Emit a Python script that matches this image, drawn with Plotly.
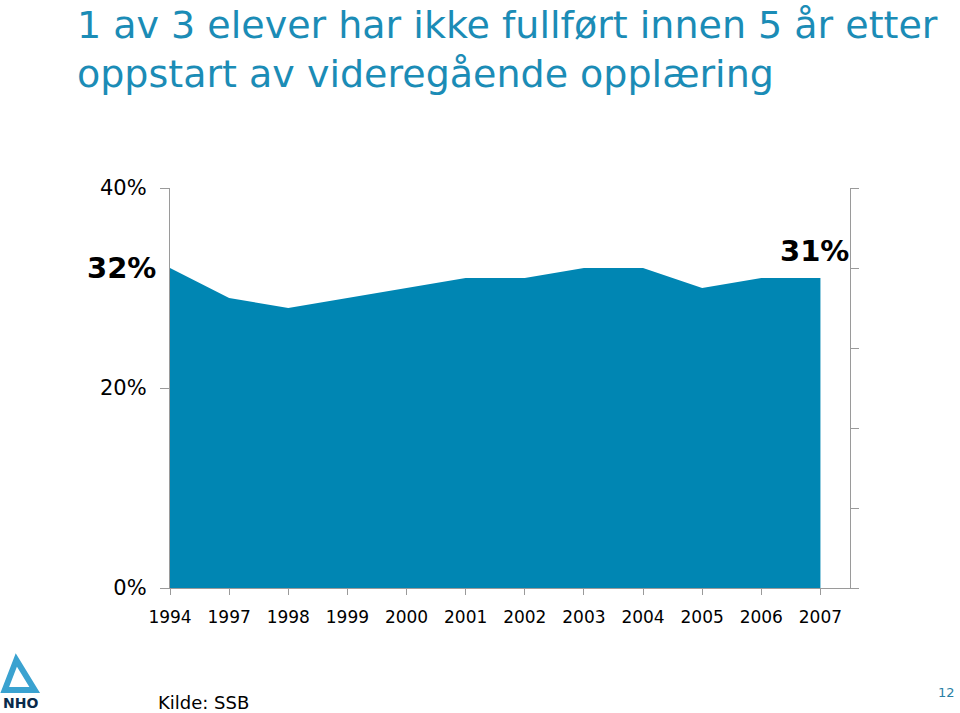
import plotly.graph_objects as go

years = ["1994", "1997", "1998", "1999", "2000", "2001", "2002", "2003", "2004", "2005", "2006", "2007"]
share = [32, 29, 28, 29, 30, 31, 31, 32, 32, 30, 31, 31]
y_ticks = [0, 20, 40]
y_ticktext = ["0%", "20%", "40%"]

idx = list(range(len(years)))
AXIS = "#9a9a9a"
FILL = "#0086b3"
TITLE = "#1b8cb6"

fig = go.Figure()
fig.add_trace(go.Scatter(x=idx, y=share, mode="lines", fill="tozeroy",
                         line=dict(width=0, color=FILL), fillcolor=FILL,
                         hoverinfo="skip", showlegend=False))
fig.add_trace(go.Scatter(x=[0], y=[0], yaxis="y2", mode="markers",
                         marker=dict(opacity=0), showlegend=False, hoverinfo="skip"))

fig.update_layout(
    width=960, height=713,
    margin=dict(l=170, r=110, t=188, b=125),
    paper_bgcolor="white", plot_bgcolor="white",
    font=dict(family="DejaVu Sans", color="black"),
    xaxis=dict(range=[0, 11.5], tickvals=idx, ticktext=years, showgrid=False,
               zeroline=False, showline=True, linecolor=AXIS, linewidth=1.3,
               ticks="outside", ticklen=6, tickcolor=AXIS, ticklabelstandoff=7,
               tickfont=dict(size=17, family="DejaVu Sans"), fixedrange=True),
    yaxis=dict(range=[0, 40], tickvals=y_ticks, ticktext=y_ticktext, showgrid=False,
               zeroline=False, showline=True, linecolor=AXIS, linewidth=1.3,
               ticks="outside", ticklen=9, tickcolor=AXIS, ticklabelstandoff=9,
               tickfont=dict(size=21, family="DejaVu Sans")),
    yaxis2=dict(range=[0, 40], overlaying="y", side="right", tickvals=[0, 8, 16, 24, 32, 40],
                showticklabels=False, showgrid=False, zeroline=False, showline=True,
                linecolor=AXIS, linewidth=1.3, ticks="outside", ticklen=8, tickcolor=AXIS),
)

fig.add_annotation(text="1 av 3 elever har ikke fullført innen 5 år etter<br>oppstart av videregående opplæring",
                   xref="paper", yref="paper", x=-0.14, y=1.468, xanchor="left", yanchor="top",
                   align="left", showarrow=False,
                   font=dict(family="DejaVu Sans", size=38, color=TITLE))
fig.add_annotation(text="<b>32%</b>", x=0, y=share[0], xref="x", yref="y",
                   xanchor="right", yanchor="middle", xshift=-12, showarrow=False,
                   font=dict(size=29, family="DejaVu Sans", color="black"))
fig.add_annotation(text="<b>31%</b>", x=idx[-1], y=share[-1], xref="x", yref="y",
                   xanchor="center", yanchor="bottom", xshift=-6, yshift=8, showarrow=False,
                   font=dict(size=29, family="DejaVu Sans", color="black"))
fig.add_annotation(text="Kilde: SSB", xref="paper", yref="paper", x=-0.02, y=-0.286,
                   xanchor="left", yanchor="middle", showarrow=False,
                   font=dict(size=18, family="DejaVu Sans", color="black"))
fig.add_annotation(text="<b>NHO</b>", xref="paper", yref="paper", x=-0.22, y=-0.288,
                   xanchor="center", yanchor="middle", showarrow=False,
                   font=dict(size=14, family="DejaVu Sans", color="#0a2a4a"))
fig.add_annotation(text="12", xref="paper", yref="paper", x=1.142, y=-0.262,
                   xanchor="center", yanchor="middle", showarrow=False,
                   font=dict(size=13, family="DejaVu Sans", color="#2a7fa5"))
# decorative logo mark
fig.add_shape(type="path", xref="paper", yref="paper",
              path="M -0.226 -0.18 L -0.243 -0.255 L -0.199 -0.255 Z",
              line=dict(color="#3aa2d0", width=6), fillcolor="rgba(0,0,0,0)")

fig.write_html("out.html")
